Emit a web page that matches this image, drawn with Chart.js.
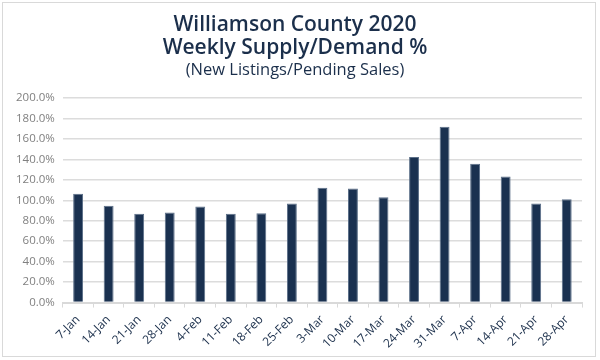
<!DOCTYPE html>
<html><head><meta charset="utf-8">
<script src="https://cdn.jsdelivr.net/npm/chart.js@4"></script>
<style>
html,body{margin:0;padding:0;background:#fff;}
#wrap{position:absolute;left:2px;top:2px;width:594px;height:355px;border:1px solid #d9d9d9;box-sizing:border-box;}
canvas{position:absolute;left:0;top:0;}
</style></head>
<body>
<div id="wrap"></div>
<canvas id="c" width="600" height="360"></canvas>
<script>
const categories = ['7-Jan','14-Jan','21-Jan','28-Jan','4-Feb','11-Feb','18-Feb','25-Feb','3-Mar','10-Mar','17-Mar','24-Mar','31-Mar','7-Apr','14-Apr','21-Apr','28-Apr'];
const supplyDemand = [106.3,94.6,86.8,88.1,94.0,86.8,87.4,96.9,112.2,111.5,103.0,142.4,172.0,135.6,123.2,96.9,101.1];
const titleLines = ['Williamson County 2020','Weekly Supply/Demand %'];
const subtitleText = '(New Listings/Pending Sales)';
const navy = '#1b2f4b';
new Chart(document.getElementById('c'), {
  type: 'bar',
  data: { labels: categories, datasets: [{ data: supplyDemand, backgroundColor: '#1a3150', borderColor: '#5b6f88', borderWidth: 1, barPercentage: 0.36, categoryPercentage: 0.9 }] },
  options: {
    responsive: false, animation: false,
    layout: { padding: { top: 13, right: 18, left: 8, bottom: 4 } },
    plugins: {
      legend: { display: false }, tooltip: { enabled: false },
      title: { display: true, text: titleLines, color: navy, font: { family: 'Open Sans', size: 21, weight: '600', lineHeight: 1.1 }, padding: { top: 0, bottom: 1 } },
      subtitle: { display: true, text: subtitleText, color: navy, font: { family: 'Open Sans', size: 16.5, weight: 'normal', lineHeight: 1.2 }, padding: { top: 0, bottom: 18 } }
    },
    scales: {
      y: { min: 0, max: 200, ticks: { stepSize: 20, callback: v => v.toFixed(1) + '%', color: '#808080', font: { family: 'Open Sans', size: 11.5 }, padding: 8 },
           grid: { color: '#dcdcdc', lineWidth: 1.5, drawTicks: false }, border: { display: false } },
      x: { ticks: { color: navy, minRotation: 45, maxRotation: 45, font: { family: 'Open Sans', size: 12 }, padding: 5 },
           grid: { drawOnChartArea: false, drawTicks: true, tickLength: 5, color: '#d9d9d9' }, border: { color: '#d9d9d9', width: 2 } }
    }
  }
});
</script>
</body></html>
